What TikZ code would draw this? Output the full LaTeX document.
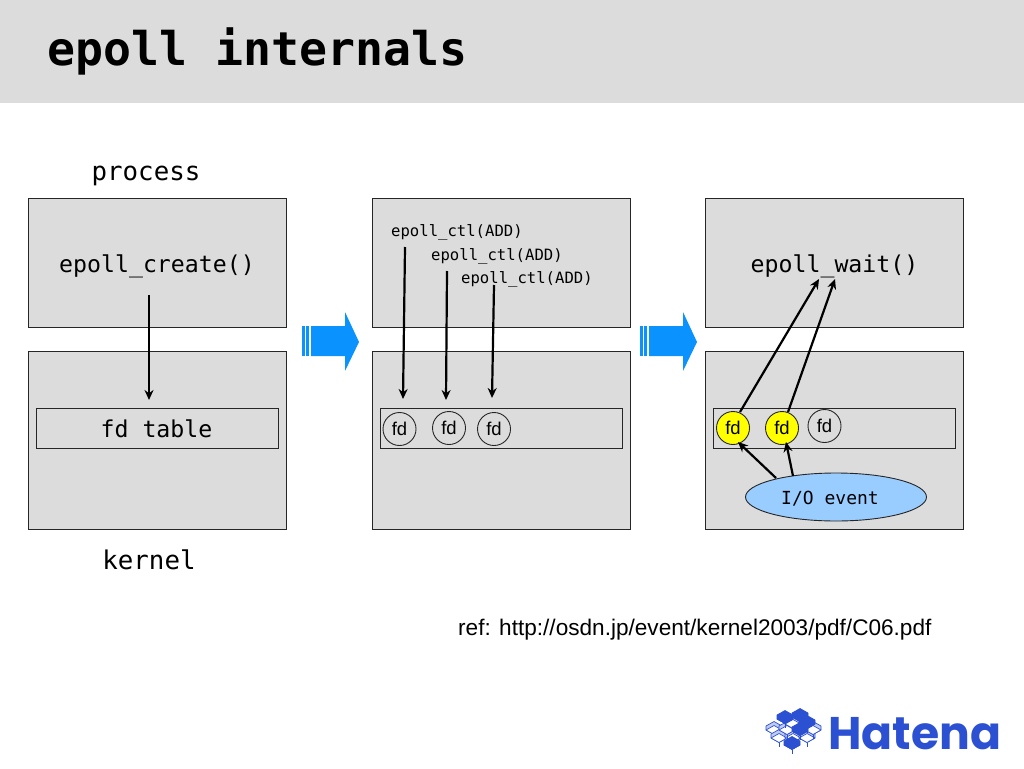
\documentclass[tikz,border=0pt]{standalone}
\usepackage{fontspec}
\setmainfont{Liberation Sans}
\newfontfamily\monof{DejaVu Sans Mono}
\newfontfamily\logof{Poppins}
\usetikzlibrary{arrows.meta,shapes.geometric}
\definecolor{panelgray}{HTML}{DCDCDC}
\definecolor{arrowblue}{HTML}{0A93FF}
\definecolor{eventblue}{HTML}{99CCFF}
\definecolor{fdyellow}{HTML}{FFFF00}
\definecolor{logoblue}{HTML}{2B50D2}
\newcommand{\fs}[1]{\fontsize{#1}{#1}\selectfont}
\newcommand{\isotile}[3]{%
  \filldraw[draw=logoblue,line width=.7pt,fill=#3!70!logoblue,line join=round]
    (#1-8,#2) -- (#1,#2+4.5) -- (#1+8,#2) -- (#1+8,#2-4) -- (#1,#2-8.5) -- (#1-8,#2-4) -- cycle;
  \filldraw[draw=logoblue,line width=.7pt,fill=#3,line join=round]
    (#1-8,#2) -- (#1,#2-4.5) -- (#1+8,#2) -- (#1,#2+4.5) -- cycle;
  \draw[logoblue,line width=.7pt] (#1,#2+4.5) -- (#1,#2+8.5);
}
\tikzset{
  panel/.style={draw=black!85,fill=panelgray,line width=1.2pt,inner sep=0pt},
  lane/.style={draw=black!85,fill=panelgray,line width=1.2pt,inner sep=0pt},
  fdnode/.style={circle,draw=black!85,line width=.9pt,fill=panelgray,minimum size=33pt,inner sep=0pt,font=\fs{18.5}},
  fdhot/.style={fdnode,fill=fdyellow},
  mono/.style={font=\monof\fs{#1},text=black,inner sep=0pt},
  flow/.style={draw=black,line width=2.2pt,-{Stealth[length=10pt,width=9pt]}},
  blockarrow/.style={fill=arrowblue,draw=none},
}
\begin{document}
\begin{tikzpicture}[x=1pt,y=-1pt]
\useasboundingbox (0,0) rectangle (1024,768);
% header
\fill[panelgray] (0,0) rectangle (1024,103);
\node[font=\monof\bfseries\fs{46.5},anchor=west,inner sep=0pt] (title) at (47,51) {epoll internals};
\node[mono=25.8] (process) at (146,176) {process};
\node[mono=25.8] (kernel) at (149,560) {kernel};
% panels
\foreach \n/\x in {a/28,b/372,c/705}{
  \node[panel,anchor=north west,minimum width=258pt,minimum height=129pt] (top\n) at (\x,198) {};
  \node[panel,anchor=north west,minimum width=258pt,minimum height=178pt] (bot\n) at (\x,351) {};
}
\node[lane,anchor=north west,minimum width=242pt,minimum height=40pt] (lanea) at (36,408) {};
\node[lane,anchor=north west,minimum width=242pt,minimum height=40pt] (laneb) at (380,408) {};
\node[lane,anchor=north west,minimum width=242pt,minimum height=40pt] (lanec) at (713,408) {};
% panel texts
\node[mono=23.2] (create) at (157,266) {epoll\_create()};
\node[mono=23.2] (fdtable) at (156.5,428.5) {fd table};
\node[mono=15.6,anchor=west] (ctla) at (391,232) {epoll\_ctl(ADD)};
\node[mono=15.6,anchor=west] (ctlb) at (431,256) {epoll\_ctl(ADD)};
\node[mono=15.6,anchor=west] (ctlc) at (461,279) {epoll\_ctl(ADD)};
\node[mono=23.2] (wait) at (834.5,266) {epoll\_wait()};
% fds
\node[fdnode] (fda) at (399.5,429) {fd};
\node[fdnode] (fdb) at (449,428) {fd};
\node[fdnode] (fdc) at (494,429) {fd};
\node[fdhot] (fdd) at (733,428) {fd};
\node[fdhot] (fde) at (782,428) {fd};
\node[fdnode] (fdf) at (824.5,426) {fd};
\node[ellipse,draw=black!85,line width=.9pt,fill=eventblue,minimum width=181pt,minimum height=48pt,inner sep=0pt] (event) at (836,497) {};
\node[mono=18] (eventlabel) at (830,498.5) {I/O event};
% connector anchors
\coordinate (c1s) at (149,295); \coordinate (c1e) at (149,400);
\coordinate (c2s) at (405,247); \coordinate (c2e) at (403,399);
\coordinate (c3s) at (447,271); \coordinate (c3e) at (446,400);
\coordinate (c4s) at (494,285); \coordinate (c4e) at (492,398);
\coordinate (c5e) at (819,279); \coordinate (c6e) at (835,279);
\coordinate (c5s) at (740,412); \coordinate (c6s) at (788,412);
\coordinate (c7s) at (776,478); \coordinate (c7e) at (738,442);
\coordinate (c8s) at (793,476); \coordinate (c8e) at (786,442);
\draw[flow] (c1s) -- (c1e);
\draw[flow] (c2s) -- (c2e);
\draw[flow] (c3s) -- (c3e);
\draw[flow] (c4s) -- (c4e);
\draw[flow] (c5s) -- (c5e);
\draw[flow] (c6s) -- (c6e);
\draw[flow] (c7s) -- (c7e);
\draw[flow] (c8s) -- (c8e);
% block arrows
\foreach \d in {0,338}{
  \begin{scope}[shift={(\d,0)}]
    \fill[blockarrow] (302,326) rectangle (304.5,356);
    \fill[blockarrow] (306,326) rectangle (309,356);
    \fill[blockarrow] (311,326) -- (345,326) -- (345,312) -- (359,342) -- (345,371) -- (345,356) -- (311,356) -- cycle;
  \end{scope}
}
% reference
\node[font=\fs{21},anchor=west,inner sep=0pt,xscale=1] (refnote) at (458,630) {\fs{22.6}ref: http://osdn.jp/event/kernel2003/pdf/C06.pdf};
% logo
\isotile{774}{730}{white}
\isotile{779}{738}{white}
\isotile{793}{738}{white}
\isotile{807}{738}{white}
\isotile{787}{730}{white}
\isotile{813}{730}{white}
\isotile{793}{724}{white}
\isotile{785}{719}{logoblue}
\isotile{800}{717}{logoblue}
\isotile{807}{724}{logoblue}
\isotile{800}{731}{logoblue}
\isotile{792}{745}{logoblue}
\node[font=\logof\bfseries\fs{45.7},text=logoblue,anchor=west,inner sep=0pt] (logo) at (828,734) {Hatena};
\end{tikzpicture}
\end{document}
